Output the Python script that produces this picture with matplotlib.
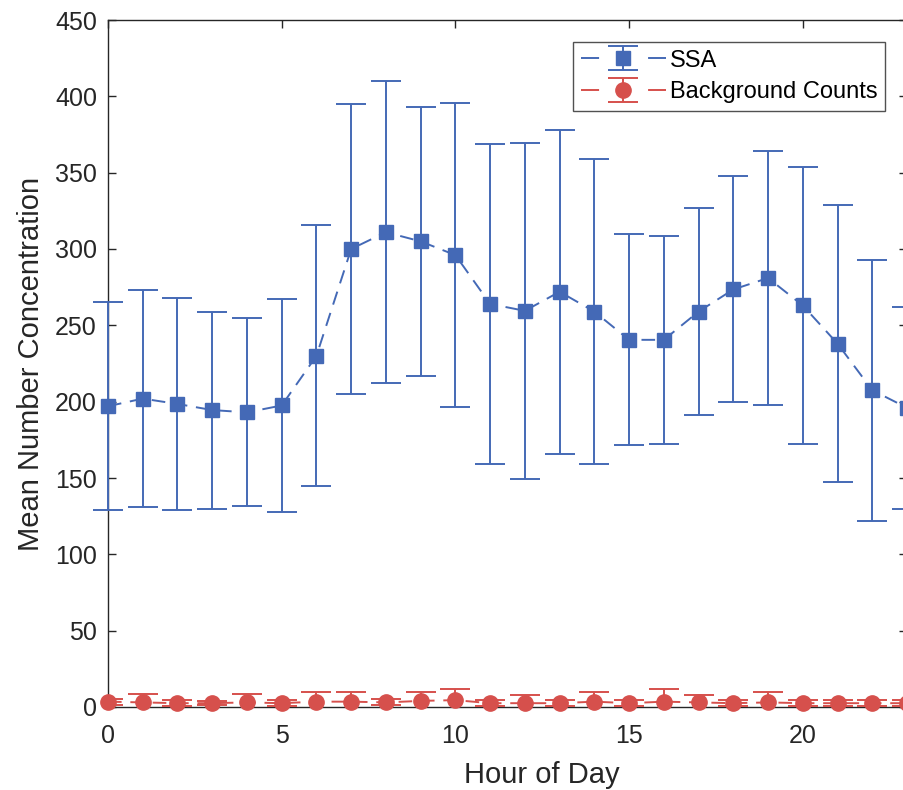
"""Hourly mean number concentration: SSA vs background counts (MATLAB-style errorbar plot)."""
import matplotlib
matplotlib.use('Agg')
import matplotlib.pyplot as plt
from matplotlib.lines import Line2D

plt.rcParams['font.family'] = ['Liberation Sans', 'DejaVu Sans']

hours = list(range(24))
ssa_mean = [197, 202, 198.5, 194.5, 193, 197.5, 230, 300, 311, 305, 296, 264,
            259.5, 272, 259, 240.5, 240.5, 259, 273.5, 281, 263, 238, 207.5, 196]
ssa_std = [68, 71, 69.5, 64.5, 61.5, 69.5, 85.5, 95, 99, 88, 99.5, 105,
           110, 106, 100, 69, 68, 68, 74, 83.5, 90.5, 90.5, 85.5, 66]
bg_mean = [3.5, 3, 2.5, 2.5, 3, 2.5, 3.5, 3.5, 3, 4, 4.5, 2.5,
           2.5, 2.5, 3.5, 2.5, 3.5, 3, 2.5, 3, 2.5, 2.5, 2.5, 2.5]
bg_std = [2, 5.5, 2, 1.5, 5.5, 2, 6, 6, 2, 5.5, 7, 2,
          5.5, 2, 6.5, 2, 8, 5, 2, 6.5, 2, 2, 2, 2]

BLUE = '#4469B6'
RED = '#D6504C'
TXT = '#262626'

fig = plt.figure(figsize=(9.04, 7.90), dpi=100)
ax = fig.add_axes([108 / 904, 83 / 790, 799 / 904, 687 / 790])

dash = (0, (7, 4.5))
ssa = ax.errorbar(hours, ssa_mean, yerr=ssa_std, color=BLUE, ls=dash, lw=1.4,
                  marker='s', ms=10, mfc=BLUE, mec=BLUE, elinewidth=1.4,
                  capsize=11, capthick=1.4, label='SSA', zorder=3)
bg = ax.errorbar(hours, bg_mean, yerr=bg_std, color=RED, ls=dash, lw=1.4,
                 marker='o', ms=11, mfc=RED, mec=RED, elinewidth=1.4,
                 capsize=11, capthick=1.4, label='Background Counts', zorder=4)
# MATLAB does not clip markers / caps at the axes box
ssa[0].set_clip_on(False)
for c in ssa[1]:
    c.set_clip_on(False)
for b in ssa[2]:
    b.set_clip_on(False)
bg[0].set_clip_on(False)

ax.set_xlim(0, 23)
ax.set_ylim(0, 450)
ax.set_xticks([0, 5, 10, 15, 20])
ax.set_yticks(range(0, 451, 50))
ax.tick_params(direction='in', length=5.5, width=1, colors=TXT, labelsize=18,
               top=True, right=True)
ax.tick_params(axis='y', pad=8)
ax.tick_params(axis='x', pad=12)
for sp in ax.spines.values():
    sp.set_color(TXT)
    sp.set_linewidth(1)
    sp.set_zorder(2)

ax.set_xlabel('Hour of Day', fontsize=21, color=TXT)
ax.xaxis.set_label_coords(0.543, -0.078)
ax.xaxis.label.set_va('top')
ax.set_ylabel('Mean Number Concentration', fontsize=21, color=TXT, labelpad=7)

leg = ax.legend(loc='upper right', bbox_to_anchor=(885 / 904, 748 / 790),
                bbox_transform=fig.transFigure, fontsize=17, frameon=True,
                fancybox=False, edgecolor='#262626', handlelength=3.6,
                borderpad=0.32, labelspacing=0.42, handletextpad=0.17,
                borderaxespad=0)
leg.get_frame().set_linewidth(1)
# legend handle: one dash each side of the marker, as in the original
for ln in leg.findobj(Line2D):
    if ln.get_linestyle() == '--':
        ln.set_linestyle((0, (9.3, 25.2)))

fig.savefig('out.png', dpi=100)
